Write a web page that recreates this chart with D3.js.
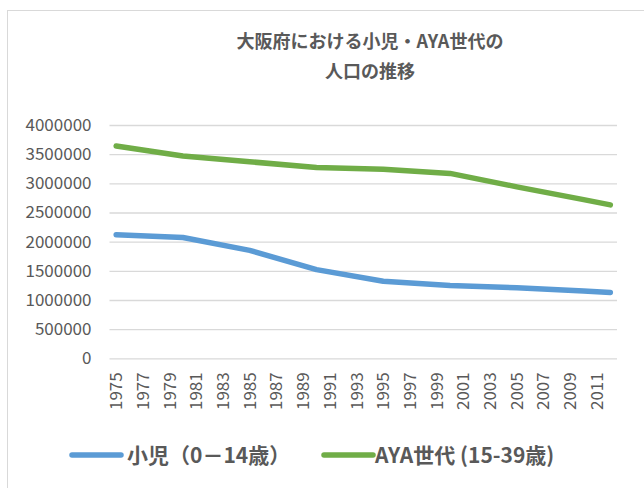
<!DOCTYPE html>
<html>
<head>
<meta charset="utf-8">
<script src="https://cdn.jsdelivr.net/npm/d3@7"></script>
<style>
  html, body { margin: 0; padding: 0; background: #fff; }
  svg { display: block; }
  text { font-family: "Noto Sans CJK JP", "Noto Sans", sans-serif; fill: #595959; }
</style>
</head>
<body>
<svg id="chart" width="644" height="488"></svg>
<script>
// ---- data ----
const categories = d3.range(1975, 2013);           // category axis 1975..2012
const xTickLabels = d3.range(1975, 2012, 2);        // shown labels
const dataYears = [1975, 1980, 1985, 1990, 1995, 2000, 2005, 2010, 2012];
const childValues = [2120000, 2070000, 1850000, 1520000, 1320000, 1250000, 1210000, 1155000, 1130000];
const ayaValues   = [3640000, 3470000, 3370000, 3270000, 3240000, 3170000, 2940000, 2720000, 2630000];
const yTicks = d3.range(0, 4000001, 500000);
const seriesNames = ["小児（0－14歳）", "AYA世代 (15-39歳)"];
const seriesColors = ["#5B9BD5", "#70AD47"];
const titleLines = ["大阪府における小児・AYA世代の", "人口の推移"];

// ---- drawing ----
const svg = d3.select("#chart");

// chart area border
svg.append("rect")
  .attr("x", 7.5).attr("y", 10.5)
  .attr("width", 700).attr("height", 500)
  .attr("fill", "none").attr("stroke", "#D9D9D9").attr("stroke-width", 1);

const plot = { left: 109.5, right: 617, top: 125, bottom: 358.3 };

const x = d3.scaleBand().domain(categories).range([plot.left, plot.right]);
const xc = d => x(d) + x.bandwidth() / 2;
const y = d3.scaleLinear().domain([0, 4000000]).range([plot.bottom, plot.top]);

// title
svg.append("g").selectAll("text").data(titleLines).join("text")
  .attr("x", 370).attr("y", (d, i) => 48 + i * 30)
  .attr("text-anchor", "middle")
  .attr("font-size", 18).attr("font-weight", "bold")
  .text(d => d);

// y axis with gridlines
const yAxis = svg.append("g")
  .attr("transform", `translate(${plot.left},0)`)
  .call(d3.axisLeft(y).tickValues(yTicks).tickFormat(d3.format("d"))
    .tickSize(-(plot.right - plot.left)).tickPadding(18));
yAxis.select(".domain").remove();
yAxis.selectAll(".tick line").attr("stroke", "#D9D9D9").attr("stroke-width", 1.3);
yAxis.selectAll(".tick text")
  .attr("font-size", 17).attr("fill", "#595959")
  .style("font-family", '"Noto Sans CJK JP", sans-serif');

// x axis labels
const xAxis = svg.append("g")
  .attr("transform", `translate(0,${plot.bottom})`)
  .call(d3.axisBottom(x).tickValues(xTickLabels).tickSize(0).tickFormat(d3.format("d")));
xAxis.select(".domain").remove();
xAxis.selectAll(".tick text")
  .attr("font-size", 17).attr("fill", "#595959")
  .style("font-family", '"Noto Sans CJK JP", sans-serif')
  .attr("text-anchor", "end")
  .attr("transform", "rotate(-90)")
  .attr("x", -14).attr("y", 0).attr("dy", "0.35em");

// lines
const seriesData = [childValues, ayaValues].map(vals => dataYears.map((yr, i) => ({ yr, v: vals[i] })));
const line = d3.line().x(d => xc(d.yr)).y(d => y(d.v));
svg.append("g").selectAll("path").data(seriesData).join("path")
  .attr("d", line)
  .attr("fill", "none")
  .attr("stroke", (d, i) => seriesColors[i])
  .attr("stroke-width", 5.5)
  .attr("stroke-linecap", "round")
  .attr("stroke-linejoin", "round");

// legend
const legendItems = [
  { x1: 72, x2: 121, tx: 127 },
  { x1: 324, x2: 373, tx: 375 }
];
const leg = svg.append("g").selectAll("g").data(seriesNames).join("g");
leg.append("line")
  .attr("x1", (d, i) => legendItems[i].x1).attr("x2", (d, i) => legendItems[i].x2)
  .attr("y1", 455).attr("y2", 455)
  .attr("stroke", (d, i) => seriesColors[i])
  .attr("stroke-width", 5.5).attr("stroke-linecap", "round");
leg.append("text")
  .attr("x", (d, i) => legendItems[i].tx).attr("y", 455).attr("dy", "0.36em")
  .attr("font-size", 21).attr("font-weight", "bold")
  .text(d => d);
</script>
</body>
</html>
